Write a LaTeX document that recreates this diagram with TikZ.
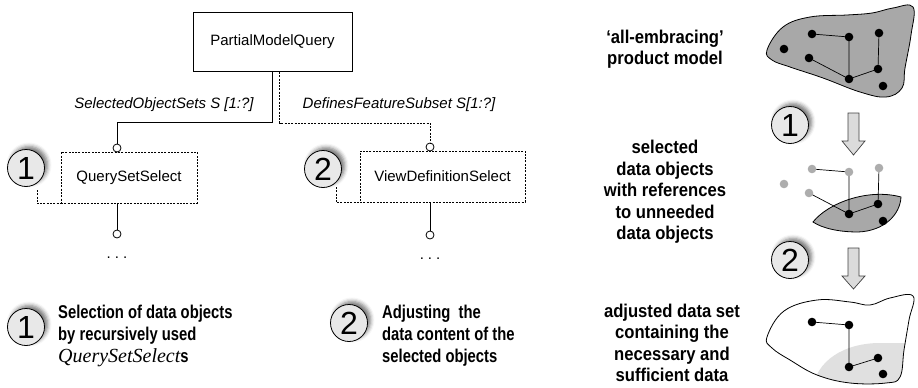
\documentclass[tikz,border=0pt]{standalone}
\usepackage{fontspec}
\setmainfont{Liberation Sans}
\newfontfamily\capfont[FakeStretch=0.8]{Liberation Sans}
\newfontfamily\rfont[FakeStretch=0.9]{Liberation Sans}
\newfontfamily\numfont{Liberation Sans}
\newfontfamily\serifit{Liberation Serif}
\usetikzlibrary{shadows.blur}

\definecolor{blobgray}{gray}{0.66}
\definecolor{lightblob}{gray}{0.88}
\definecolor{numfill}{gray}{0.91}
\definecolor{arrowfill}{gray}{0.86}

\tikzset{
  boxfont/.style={font=\fontsize{15}{18}\selectfont},
  classbox/.style={draw, line width=0.8pt, inner sep=0pt, boxfont},
  dashbox/.style={draw, line width=0.7pt, dash pattern=on 2pt off 1.3pt, inner sep=0pt, boxfont},
  conn/.style={line width=0.9pt},
  dashconn/.style={line width=0.8pt, dash pattern=on 2pt off 1.3pt},
  port/.style={circle, draw, fill=white, line width=0.8pt, minimum size=8pt, inner sep=0pt},
  rolelabel/.style={font=\fontsize{15}{18}\selectfont\itshape, inner sep=0pt},
  numc/.style={circle, draw, line width=0.8pt, fill=numfill, minimum size=37pt, inner sep=0pt,
    font=\numfont\fontsize{32}{32}\selectfont,
    blur shadow={shadow xshift=3pt, shadow yshift=3pt, shadow blur radius=4pt, shadow opacity=55}},
  caption/.style={align=left, anchor=north west, inner sep=0pt,
    font=\capfont\bfseries\fontsize{18.5}{22}\selectfont},
  rtext/.style={align=center, inner sep=0pt,
    font=\rfont\bfseries\fontsize{18.5}{21.5}\selectfont},
  dot/.style={fill=black},
  graydot/.style={fill=black!32},
  edge/.style={line width=0.7pt},
  blockarrow/.style={fill=arrowfill, draw=black!75, line width=0.7pt, line join=miter},
  ellip/.style={font=\fontsize{15}{18}\selectfont, inner sep=0pt}
}

\begin{document}
\begin{tikzpicture}[x=1pt, y=-1pt]
\useasboundingbox (0,0) rectangle (918,388);

% ---------- query structure ----------
\node[classbox, minimum width=159pt, minimum height=59pt] (pmq) at (272.5,42) {PartialModelQuery};

\node[dashbox, minimum width=136pt, minimum height=51pt] (qss) at (129,177.5) {QuerySetSelect};
\node[dashbox, minimum width=165pt, minimum height=51pt] (vds) at (442.5,176.5) {ViewDefinitionSelect};

% extension corners of the select boxes
\draw[dashconn] (37,190) |- (qss.south west);
\draw[dashconn] (336,187) |- (vds.south west);

% ports
\node[port] (p1) at (117,148) {};
\node[port] (p2) at (430,147) {};
\node[port] (p3) at (117,234) {};
\node[port] (p4) at (430,235) {};

% relations
\draw[conn] (pmq.south) -- ++(0,51) -| (p1);
\draw[dashconn] ([xshift=7pt]pmq.south) -- ++(0,51) -| (p2);
\draw[conn] (qss.south -| p1) -- (p3);
\draw[conn] (vds.south -| p2) -- (p4);

\node[rolelabel] (l1) at (164,105) {SelectedObjectSets S [1:?]};
\node[rolelabel] (l2) at (399,105) {DefinesFeatureSubset S[1:?]};

\node[ellip] (e1) at (117,258) {.\hspace{4pt}.\hspace{4pt}.};
\node[ellip] (e2) at (430,259) {.\hspace{4pt}.\hspace{4pt}.};

% numbered markers
\node[numc] (n1a) at (26,168) {1};
\node[numc] (n2a) at (323,169) {2};
\node[numc] (n1b) at (26,327) {1};
\node[numc] (n2b) at (349,323) {2};

% captions
\node[caption] (c1) at (58,305) {Selection of data objects\\by recursively used\\{\serifit\itshape\mdseries\fontsize{20}{22}\selectfont QuerySetSelect}s};
\node[caption] (c2) at (382,305) {Adjusting\ \ the\\data content of the\\selected objects};

% ---------- right column: data sets ----------
\node[rtext] (t1) at (665,49) {‘all-embracing’\\product model};
\node[rtext] (t2) at (665,192) {selected\\data objects\\with references\\to unneeded\\data objects};
\node[rtext] (t3) at (672,343) {adjusted data set\\containing the\\necessary and\\sufficient data};

% full product model
\draw[fill=blobgray, line width=0.8pt] plot[smooth cycle, tension=0.65] coordinates {
  (767,50) (783,27) (810,17) (847,15) (872,13) (893,8) (913,7)
  (911,35) (905,68) (902,88) (886,97) (860,92) (823,78) (790,67) (772,60)};
\draw[edge] (812,34) -- (849,37) -- (849,79) -- (809,58);
\draw[edge] (849,79) -- (878,69) -- (879,33);
\foreach \p in {(812,34),(849,37),(879,33),(784,49),(809,58),(849,79),(878,69),(883,86)}
  \fill[dot] \p circle (4.3pt);

% step arrows
\draw[blockarrow] (848,113) -- (859,113) -- (859,141) -- (865,141) -- (853.5,155) -- (842,141) -- (848,141) -- cycle;
\draw[blockarrow] (848,248) -- (859,248) -- (859,276) -- (865,276) -- (853.5,289) -- (842,276) -- (848,276) -- cycle;
\node[numc] (n1c) at (790,125) {1};
\node[numc] (n2c) at (790,260) {2};

% selected objects
\draw[fill=blobgray, line width=0.8pt] (813,222) .. controls (828,203) and (868,188) .. (901,197)
  .. controls (900,215) and (884,231) .. (858,232) .. controls (838,232) and (822,228) .. (813,222) -- cycle;
\draw[edge] (812,169) -- (849,172) -- (849,214) -- (809,193);
\draw[edge] (849,214) -- (878,204) -- (879,168);
\foreach \p in {(812,169),(849,172),(879,168),(784,184),(809,193)}
  \fill[graydot] \p circle (4.3pt);
\foreach \p in {(849,214),(878,204),(883,221)}
  \fill[dot] \p circle (4.3pt);

% adjusted data set
\def\adjblob{plot[smooth cycle, tension=0.65] coordinates {
  (767,337) (784,311) (817,300) (850,302) (870,305) (890,298) (913,296)
  (909,320) (904,350) (900,377) (886,383) (850,383) (817,375) (790,360) (772,348)}}
\begin{scope}
  \clip \adjblob;
  \fill[lightblob] (812,392) .. controls (815,360) and (845,343) .. (880,343) -- (920,343) -- (920,392) -- cycle;
\end{scope}
\draw[line width=0.8pt] \adjblob;
\draw[edge] (812,322) -- (849,325) -- (849,367) -- (878,358);
\foreach \p in {(812,322),(849,325),(849,367),(878,358),(883,374)}
  \fill[dot] \p circle (4.3pt);
\end{tikzpicture}
\end{document}
